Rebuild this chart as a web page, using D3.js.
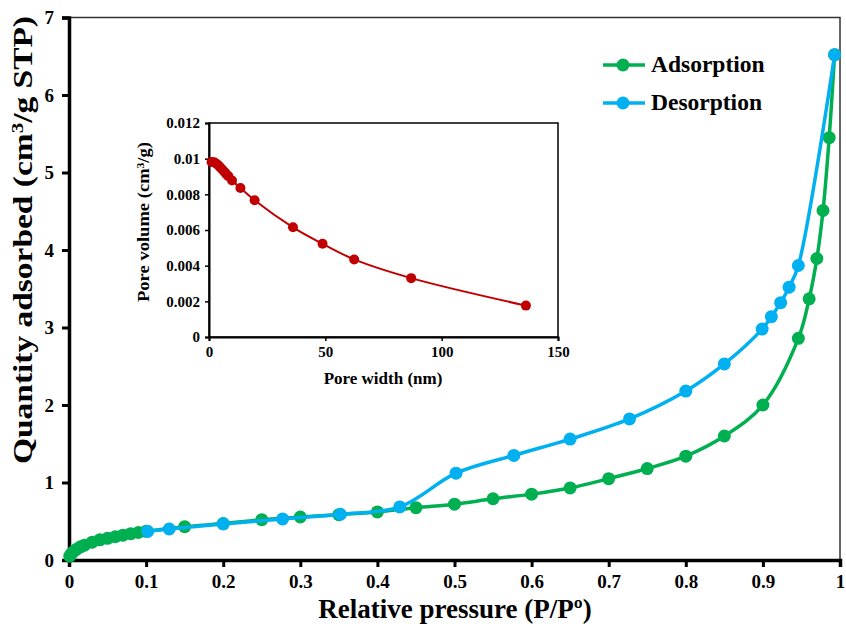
<!DOCTYPE html>
<html>
<head>
<meta charset="utf-8">
<script src="https://cdn.jsdelivr.net/npm/d3@7"></script>
<style>
body { margin: 0; background: #fff; }
text { font-family: "Liberation Serif", "Times New Roman", serif; font-weight: bold; }
</style>
</head>
<body>
<div id="chart"></div>
<script>
// isotherm data (P/Po, quantity adsorbed)
var adsX = [0.001, 0.003, 0.006, 0.01, 0.015, 0.02, 0.03, 0.04, 0.05, 0.06, 0.07, 0.08, 0.09, 0.1,
    0.15, 0.2, 0.25, 0.3, 0.35, 0.4, 0.45, 0.5, 0.55, 0.6, 0.65, 0.7, 0.75, 0.8, 0.85, 0.9,
    0.946, 0.96, 0.97, 0.978, 0.986, 0.993];
var adsY = [0.05, 0.08, 0.11, 0.14, 0.17, 0.19, 0.23, 0.26, 0.28, 0.30, 0.32, 0.34, 0.355, 0.37,
    0.43, 0.47, 0.52, 0.555, 0.585, 0.62, 0.675, 0.72, 0.79, 0.85, 0.93, 1.05, 1.18, 1.34, 1.6, 2.0,
    2.86, 3.37, 3.89, 4.51, 5.45, 6.52];
var desX = [0.102, 0.13, 0.2, 0.277, 0.352, 0.429, 0.502, 0.577, 0.65, 0.727, 0.8, 0.85,
    0.899, 0.911, 0.923, 0.934, 0.946, 0.993];
var desY = [0.37, 0.40, 0.465, 0.53, 0.59, 0.685, 1.12, 1.35, 1.56, 1.82, 2.18, 2.53,
    2.98, 3.14, 3.32, 3.52, 3.8, 6.52];
var xTicks = [0, 0.1, 0.2, 0.3, 0.4, 0.5, 0.6, 0.7, 0.8, 0.9, 1];
var yTicks = [0, 1, 2, 3, 4, 5, 6, 7];

// pore size distribution (inset)
var poreW = [1.1, 2.2, 3.0, 3.9, 4.7, 5.6, 6.5, 7.3, 8.3, 9.9, 13.5, 19.6, 36.1, 48.8, 62.4, 86.9, 136.2];
var poreV = [0.00981, 0.0098, 0.00973, 0.00964, 0.00953, 0.00941, 0.00928, 0.00915, 0.00902, 0.00878,
    0.00836, 0.00767, 0.00615, 0.00523, 0.00435, 0.00330, 0.00176];
var inXTicks = [0, 50, 100, 150];
var inYTicks = [0, 0.002, 0.004, 0.006, 0.008, 0.01, 0.012];

var green = "#00b050", blue = "#00b0f0", red = "#c00000";

var width = 846, height = 628;
var svg = d3.select("#chart").append("svg").attr("width", width).attr("height", height);

var x = d3.scaleLinear().domain([0, 1]).range([69, 840]);
var y = d3.scaleLinear().domain([0, 7]).range([560, 17.5]);

// frame top/right
svg.append("path")
    .attr("d", "M" + x(0) + "," + y(7) + "H" + x(1) + "V" + y(0))
    .attr("fill", "none").attr("stroke", "#333").attr("stroke-width", 1.5);

var xAxis = svg.append("g").attr("transform", "translate(0," + y(0) + ")")
    .call(d3.axisBottom(x).tickValues(xTicks).tickSize(7).tickPadding(8).tickFormat(function(d) { return d; }));
var yAxis = svg.append("g").attr("transform", "translate(" + x(0) + ",0)")
    .call(d3.axisLeft(y).tickValues(yTicks).tickSize(7).tickPadding(8).tickFormat(function(d) { return d; }));
[xAxis, yAxis].forEach(function(a) {
    a.select(".domain").attr("stroke", "#000").attr("stroke-width", 3.5);
    a.selectAll(".tick line").attr("stroke", "#000").attr("stroke-width", 3);
    a.selectAll(".tick text").attr("fill", "#000").style("font-size", "19px");
});

svg.append("text").attr("x", 455).attr("y", 618).attr("text-anchor", "middle")
    .style("font-size", "27px").text("Relative pressure (P/P\u00ba)");
svg.append("text").attr("transform", "translate(32,240) rotate(-90)").attr("text-anchor", "middle")
    .style("font-size", "27px")
    .attr("textLength", 448).attr("lengthAdjust", "spacingAndGlyphs")
    .html('Quantity adsorbed (cm<tspan baseline-shift="super" font-size="17px">3</tspan>/g STP)');

var line = d3.line().x(function(d) { return x(d[0]); }).y(function(d) { return y(d[1]); })
    .curve(d3.curveCatmullRom.alpha(0.5));

function drawSeries(xs, ys, color) {
    var pts = xs.map(function(v, i) { return [v, ys[i]]; });
    svg.append("path").datum(pts).attr("d", line)
        .attr("fill", "none").attr("stroke", color).attr("stroke-width", 3.5);
    svg.append("g").selectAll("circle").data(pts).enter().append("circle")
        .attr("cx", function(d) { return x(d[0]); })
        .attr("cy", function(d) { return y(d[1]); })
        .attr("r", 6.5).attr("fill", color);
}
drawSeries(adsX, adsY, green);
drawSeries(desX, desY, blue);

// legend
var legend = [["Adsorption", green], ["Desorption", blue]];
legend.forEach(function(l, i) {
    var ly = 65 + i * 38;
    svg.append("line").attr("x1", 603).attr("x2", 645).attr("y1", ly).attr("y2", ly)
        .attr("stroke", l[1]).attr("stroke-width", 3.5);
    svg.append("circle").attr("cx", 623).attr("cy", ly).attr("r", 6.5).attr("fill", l[1]);
    svg.append("text").attr("x", 651).attr("y", ly + 7).style("font-size", "23.5px").text(l[0]);
});

// inset
var ix = d3.scaleLinear().domain([0, 150]).range([209, 558]);
var iy = d3.scaleLinear().domain([0, 0.012]).range([337, 123]);

svg.append("rect").attr("x", 209).attr("y", 123).attr("width", 349).attr("height", 214)
    .attr("fill", "#fff").attr("stroke", "#000").attr("stroke-width", 1.5);

var ixAxis = svg.append("g").attr("transform", "translate(0," + iy(0) + ")")
    .call(d3.axisBottom(ix).tickValues(inXTicks).tickSize(4).tickPadding(5));
var iyAxis = svg.append("g").attr("transform", "translate(" + ix(0) + ",0)")
    .call(d3.axisLeft(iy).tickValues(inYTicks).tickSize(4).tickPadding(5).tickFormat(function(d) { return d; }));
[ixAxis, iyAxis].forEach(function(a) {
    a.select(".domain").attr("stroke", "#000").attr("stroke-width", 2);
    a.selectAll(".tick line").attr("stroke", "#000").attr("stroke-width", 1.5);
    a.selectAll(".tick text").attr("fill", "#000").style("font-size", "15px");
});

svg.append("text").attr("x", 383).attr("y", 384).attr("text-anchor", "middle")
    .style("font-size", "17px").text("Pore width (nm)");
svg.append("text").attr("transform", "translate(149,222) rotate(-90)").attr("text-anchor", "middle")
    .style("font-size", "16px")
    .attr("textLength", 160).attr("lengthAdjust", "spacingAndGlyphs")
    .html('Pore volume (cm<tspan baseline-shift="super" font-size="10px">3</tspan>/g)');

var ipts = poreW.map(function(v, i) { return [v, poreV[i]]; });
svg.append("path").datum(ipts)
    .attr("d", d3.line().x(function(d) { return ix(d[0]); }).y(function(d) { return iy(d[1]); })
        .curve(d3.curveCatmullRom.alpha(0.5)))
    .attr("fill", "none").attr("stroke", red).attr("stroke-width", 2);
svg.append("g").selectAll("circle").data(ipts).enter().append("circle")
    .attr("cx", function(d) { return ix(d[0]); })
    .attr("cy", function(d) { return iy(d[1]); })
    .attr("r", 5).attr("fill", red);
</script>
</body>
</html>
